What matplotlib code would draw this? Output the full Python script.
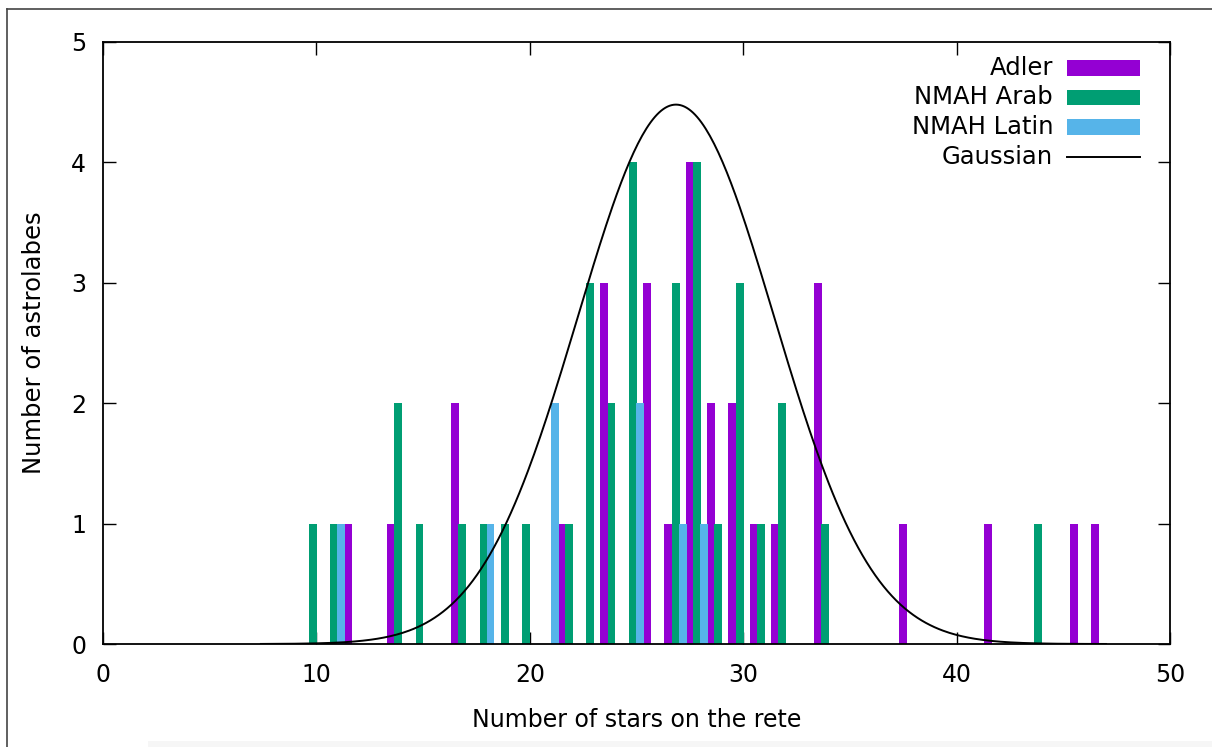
import numpy as np
import matplotlib
matplotlib.use("Agg")
import matplotlib.pyplot as plt
from matplotlib.lines import Line2D
from matplotlib.patches import Rectangle

# stars on the rete -> number of astrolabes
adler_x = [11, 13, 16, 21, 23, 25, 26, 27, 28, 29, 30, 31, 33, 37, 41, 45, 46]
adler_y = [1, 1, 2, 1, 3, 3, 1, 4, 2, 2, 1, 1, 3, 1, 1, 1, 1]

arab_x = [10, 11, 14, 15, 17, 18, 19, 20, 22, 23, 24, 25, 27, 28, 29, 30, 31, 32, 34, 44]
arab_y = [1, 1, 2, 1, 1, 1, 1, 1, 1, 3, 2, 4, 3, 4, 1, 3, 1, 2, 1, 1]

latin_x = [11, 18, 21, 25, 27, 28]
latin_y = [1, 1, 2, 2, 1, 1]

# gaussian fit parameters
g_amp = 4.48
g_mu = 26.85
g_sigma = 4.6
g_range = (7.4, 47.0)

purple = "#9400D3"
green = "#009E73"
blue = "#56B4E9"

fig = plt.figure(figsize=(12.12, 7.47), dpi=100)
ax = fig.add_axes([103 / 1212, 1 - 644 / 747, (1170 - 103) / 1212, (644 - 42) / 747])

w = 0.37
ax.bar(np.array(adler_x) + 0.49, adler_y, width=w, color=purple, linewidth=0, zorder=2)
ax.bar(np.array(arab_x) - 0.17, arab_y, width=w, color=green, linewidth=0, zorder=2)
ax.bar(np.array(latin_x) + 0.16, latin_y, width=w, color=blue, linewidth=0, zorder=2)

gx = np.linspace(g_range[0], g_range[1], 400)
gy = g_amp * np.exp(-(gx - g_mu) ** 2 / (2 * g_sigma ** 2))
ax.plot(gx, gy, color="black", lw=1.4, zorder=3)

ax.set_xlim(0, 50)
ax.set_ylim(0, 5)
ax.set_xticks(range(0, 51, 10))
ax.set_yticks(range(0, 6))
ax.tick_params(direction="in", length=9, width=1, top=True, right=True,
               labelsize=17, colors="black")
ax.tick_params(axis="x", pad=14)
ax.tick_params(axis="y", pad=12)
for s in ax.spines.values():
    s.set_linewidth(1.3)
ax.set_xlabel("Number of stars on the rete", fontsize=17, labelpad=15)
ax.set_ylabel("Number of astrolabes", fontsize=17.5, labelpad=18)

# gnuplot style key: text right-aligned, sample to the right
labels = ["Adler", "NMAH Arab", "NMAH Latin", "Gaussian"]
colors = [purple, green, blue, None]
tr = fig.transFigure
for i, (lab, c) in enumerate(zip(labels, colors)):
    yc = 1 - (68 + 29.5 * i) / 747
    fig.text(1053 / 1212, yc, lab, ha="right", va="center", fontsize=17.5)
    if c is not None:
        fig.patches.append(Rectangle((1067 / 1212, yc - 7.5 / 747), 73 / 1212, 15 / 747,
                                     transform=tr, facecolor=c, edgecolor="none"))
    else:
        fig.lines.append(Line2D([1067 / 1212, 1140 / 1212], [yc, yc], transform=tr,
                                color="black", lw=1.4))

# outer frame of the screenshot
fig.lines.append(Line2D([7 / 1212, 7 / 1212], [0, 1 - 9 / 747], transform=tr, color="#444444", lw=1.2))
fig.lines.append(Line2D([7 / 1212, 1], [1 - 9 / 747, 1 - 9 / 747], transform=tr, color="#444444", lw=1.2))
fig.patches.append(Rectangle((148 / 1212, 0), 1, 6 / 747, transform=tr,
                             facecolor="#f6f6f6", edgecolor="none"))

fig.savefig("out.png", dpi=100)
